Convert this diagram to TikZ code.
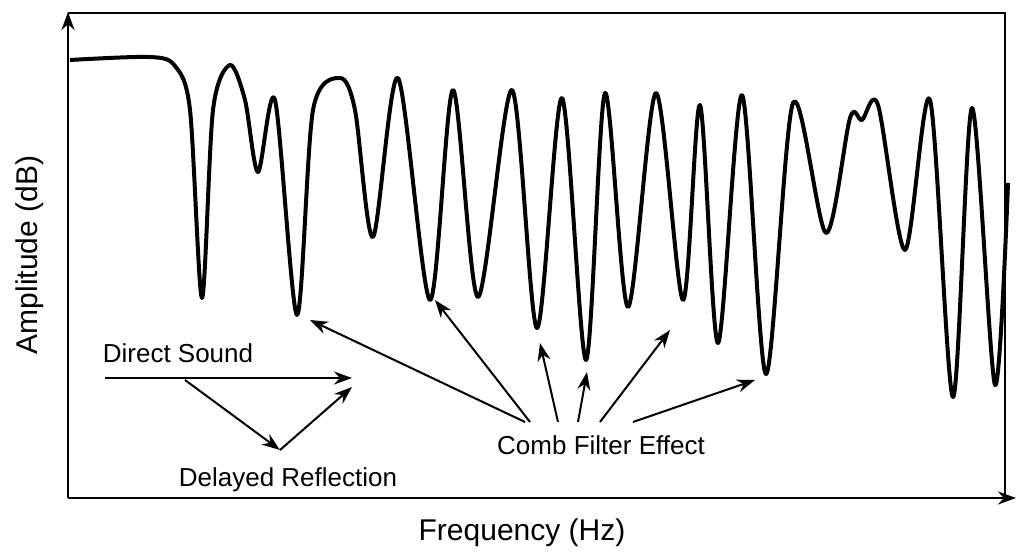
\documentclass[tikz,border=0pt]{standalone}
\usepackage{fontspec}
\setmainfont{Liberation Sans}
\usetikzlibrary{arrows.meta}
\begin{document}
\begin{tikzpicture}[x=1pt,y=-1pt,
  axis/.style={line width=2.4pt,-{Stealth[length=18pt,width=13pt]}},
  note/.style={line width=2pt,-{Stealth[length=18pt,width=13pt]}},
  lbl/.style={font=\fontsize{26}{30}\selectfont}]
\useasboundingbox (0,0) rectangle (1024,559);
% frame and axes
\draw[line width=1.6pt] (68,13) -- (1005,13) -- (1005,498);
\coordinate (o) at (68,498);
\coordinate (ytop) at (68,12);
\coordinate (xend) at (1016,498);
\draw[axis] (o) -- (ytop);
\draw[axis] (o) -- (xend);
\node[rotate=90,font=\fontsize{30}{34}\selectfont] (ylab) at (30,255) {Amplitude (dB)};
\node[font=\fontsize{30}{34}\selectfont] (xlab) at (522,533) {Frequency (Hz)};
% response curve
\draw[line width=4pt,line join=round] plot[smooth,tension=0.5] coordinates {
 (70,60) (150,57) (175,66) (190,110) (202,298) (213,110) (230,65) (245,100) (258,172)
 (275,100) (297,315) (313,110) (340,78) (355,110) (373,237) (398,78) (430,300) (453,90)
 (478,297) (512,90) (537,328) (562,98) (586,360) (605,93) (628,307) (656,93) (683,300)
 (700,105) (718,343) (742,95) (766,374) (793,103) (826,233) (850,118) (862,120) (878,105)
 (905,250) (930,100) (953,397) (972,108) (995,385) (1008,183)};
% labels and arrows
\node[lbl] (comb) at (601,445) {Comb Filter Effect};
\node[lbl] (direct) at (178,353) {Direct Sound};
\node[lbl] (delay) at (288,480) {Delayed Reflection};
\coordinate (d0) at (105,378);
\coordinate (d1) at (352,378);
\coordinate (r0) at (185,380);
\coordinate (r1) at (280,450);
\coordinate (r2) at (352,387);
\draw[note] (d0) -- (d1);
\draw[note] (r0) -- (r1);
\draw[note] (r1) -- (r2);
\foreach \s/\t in {525/{310,320},530/{435,300},558/{540,343},578/{587,372},600/{670,330},633/{755,380}}
  \draw[note] (\s,422) -- (\t);
\end{tikzpicture}
\end{document}
